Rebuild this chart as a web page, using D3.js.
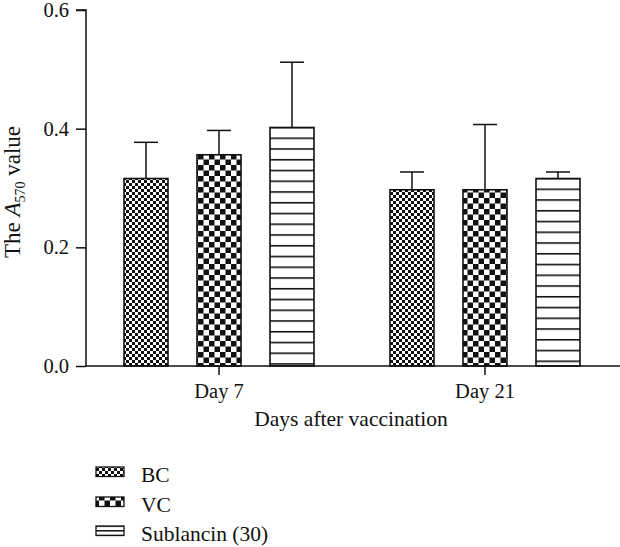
<!DOCTYPE html>
<html>
<head>
<meta charset="utf-8">
<script src="https://cdn.jsdelivr.net/npm/d3@7"></script>
<style>
  body { margin: 0; background: #fff; }
  svg { display: block; }
  text { font-family: "Liberation Serif", "DejaVu Serif", serif; fill: #111; }
</style>
</head>
<body>
<svg id="chart" width="620" height="547"></svg>
<script>
const categories = ["Day 7", "Day 21"];
const seriesNames = ["BC", "VC", "Sublancin (30)"];
const meanBC = [0.316, 0.297];
const meanVC = [0.356, 0.297];
const meanSub = [0.402, 0.316];
const errBC = [0.061, 0.030];
const errVC = [0.041, 0.110];
const errSub = [0.110, 0.011];
const yTicks = [0.0, 0.2, 0.4, 0.6];

const svg = d3.select("#chart");
const defs = svg.append("defs");

// BC fine checker
const pBC = defs.append("pattern").attr("id", "pBC").attr("patternUnits", "userSpaceOnUse")
  .attr("width", 6).attr("height", 6);
pBC.append("rect").attr("width", 6).attr("height", 6).attr("fill", "#fff");
pBC.append("rect").attr("width", 3).attr("height", 3).attr("fill", "#111");
pBC.append("rect").attr("x", 3).attr("y", 3).attr("width", 3).attr("height", 3).attr("fill", "#111");
// VC coarse checker
const pVC = defs.append("pattern").attr("id", "pVC").attr("patternUnits", "userSpaceOnUse")
  .attr("width", 11).attr("height", 11);
pVC.append("rect").attr("width", 11).attr("height", 11).attr("fill", "#fff");
pVC.append("rect").attr("width", 5.5).attr("height", 5.5).attr("fill", "#111");
pVC.append("rect").attr("x", 5.5).attr("y", 5.5).attr("width", 5.5).attr("height", 5.5).attr("fill", "#111");

function subPattern(id, y0, h) {
  const p = defs.append("pattern").attr("id", id).attr("patternUnits", "userSpaceOnUse")
    .attr("width", 10).attr("height", h).attr("y", y0 - 0.8);
  p.append("rect").attr("width", 10).attr("height", h).attr("fill", "#fff");
  p.append("rect").attr("y", 0).attr("width", 10).attr("height", 1.6).attr("fill", "#111");
}

const means = [meanBC, meanVC, meanSub];
const errs = [errBC, errVC, errSub];

const x0 = 86, yTop = 10, yBot = 366;
const x = d3.scaleBand().domain(categories).range([x0, x0 + 532]).padding(0);
const y = d3.scaleLinear().domain([0, 0.6]).range([yBot, yTop]);
const barW = 44, barStep = 73;

// bars
categories.forEach((c, ci) => {
  const cx = x(c) + x.bandwidth() / 2;
  seriesNames.forEach((s, si) => {
    const v = means[si][ci], e = errs[si][ci];
    const bx = cx + (si - 1) * barStep - barW / 2;
    let fill = si === 0 ? "url(#pBC)" : "url(#pVC)";
    if (si === 2) { const id = "pSub" + ci; subPattern(id, y(v), 10.75); fill = `url(#${id})`; }
    const g = svg.append("g");
    g.append("rect").attr("x", bx).attr("y", y(v)).attr("width", barW).attr("height", yBot - y(v))
      .attr("fill", fill).attr("stroke", "#111").attr("stroke-width", 1.6);
    const mx = bx + barW / 2;
    g.append("line").attr("x1", mx).attr("x2", mx).attr("y1", y(v)).attr("y2", y(v + e))
      .attr("stroke", "#111").attr("stroke-width", 1.5);
    g.append("line").attr("x1", mx - 12).attr("x2", mx + 12).attr("y1", y(v + e)).attr("y2", y(v + e))
      .attr("stroke", "#111").attr("stroke-width", 1.5);
  });
});

// y axis
const yAxis = d3.axisLeft(y).tickValues(yTicks).tickFormat(d3.format(".1f")).tickSize(10).tickPadding(7);
const gy = svg.append("g").attr("transform", `translate(${x0},0)`).call(yAxis);
gy.select(".domain").attr("stroke", "#111").attr("stroke-width", 1.5).attr("d", `M-10,${yTop}H0V${yBot}`);
gy.selectAll(".tick line").attr("stroke", "#111").attr("stroke-width", 1.5);
gy.selectAll(".tick text").style("font-family", "Liberation Serif, serif").style("font-size", "20.5px").attr("fill", "#111");

// x axis
const xAxis = d3.axisBottom(x).tickSize(9).tickPadding(8);
const gx = svg.append("g").attr("transform", `translate(0,${yBot})`).call(xAxis);
gx.select(".domain").attr("stroke", "#111").attr("stroke-width", 1.5).attr("d", `M${x0},0H620`);
gx.selectAll(".tick line").attr("stroke", "#111").attr("stroke-width", 1.5);
gx.selectAll(".tick text").style("font-family", "Liberation Serif, serif").style("font-size", "20.5px").attr("fill", "#111");

// axis titles
svg.append("text").attr("x", 351).attr("y", 426).attr("text-anchor", "middle")
  .style("font-size", "21.5px").text("Days after vaccination");
const yt = svg.append("text").attr("transform", "translate(20,192) rotate(-90)").attr("text-anchor", "middle")
  .style("font-size", "23px");
yt.append("tspan").text("The ");
yt.append("tspan").style("font-style", "italic").text("A");
yt.append("tspan").attr("dy", 5).style("font-size", "14px").text("570");
yt.append("tspan").attr("dy", -5).text(" value");

// legend
const legBase = [482, 512, 541];
const lp = defs.append("pattern").attr("id", "pSubL").attr("patternUnits", "userSpaceOnUse")
  .attr("width", 10).attr("height", 4.75).attr("y", legBase[2] - 15 - 0.75);
lp.append("rect").attr("width", 10).attr("height", 4.75).attr("fill", "#fff");
lp.append("rect").attr("width", 10).attr("height", 1.5).attr("fill", "#111");
const legFills = ["url(#pBC)", "url(#pVC)", "url(#pSubL)"];
seriesNames.forEach((s, i) => {
  const ly = legBase[i];
  svg.append("rect").attr("x", 96).attr("y", ly - 15).attr("width", 28).attr("height", 9.5)
    .attr("fill", legFills[i]).attr("stroke", "#111").attr("stroke-width", 1.3);
  svg.append("text").attr("x", 141).attr("y", ly).style("font-size", "21.5px").text(s);
});
</script>
</body>
</html>
